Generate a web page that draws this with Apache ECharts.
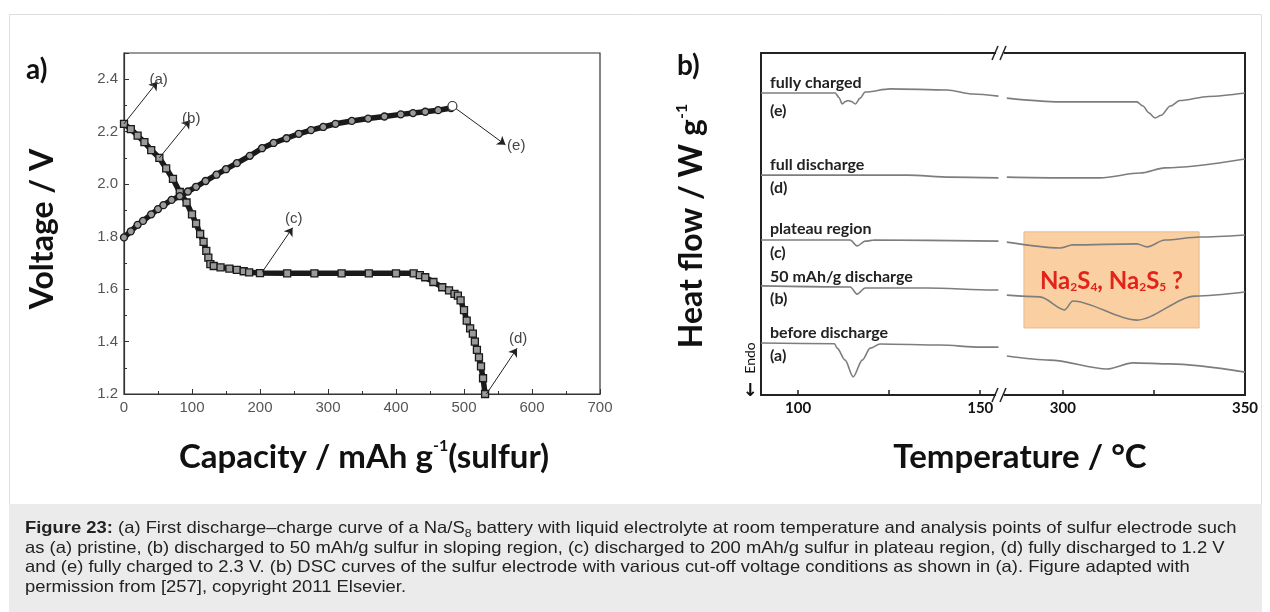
<!DOCTYPE html>
<html lang="en">
<head>
	<meta charset="UTF-8">
	<title>Na/S8 discharge-charge and DSC</title>
	<style>
		body, div {
			margin: 0;
			padding: 0;
		}
		body {
			background: #fff;
		}
		#main {
			position: absolute;
			left: 0;
			top: 0;
			width: 1270px;
			height: 612px;
		}
		#cap {
			position: absolute;
			left: 25px;
			top: 518px;
			font-family: 'Liberation Sans', Arial, sans-serif;
			font-size: 16.5px;
			line-height: 19.7px;
			color: #222;
			white-space: nowrap;
			transform: scaleX(1.115);
			transform-origin: 0 0;
		}
		#cap sub {
			font-size: 11px;
			line-height: 0;
		}
	</style>
</head>
<body>
	<div id="main"></div>
	<div id="cap">
		<b>Figure 23:</b> (a) First discharge&ndash;charge curve of a Na/S<sub>8</sub> battery with liquid electrolyte at room temperature and analysis points of sulfur electrode such<br>
		as (a) pristine, (b) discharged to 50 mAh/g sulfur in sloping region, (c) discharged to 200 mAh/g sulfur in plateau region, (d) fully discharged to 1.2 V<br>
		and (e) fully charged to 2.3 V. (b) DSC curves of the sulfur electrode with various cut-off voltage conditions as shown in (a). Figure adapted with<br>
		permission from [257], copyright 2011 Elsevier.
	</div>

	<script src="https://cdn.jsdelivr.net/npm/echarts@6/dist/echarts.min.js"></script>

	<script>
    // ---- a) discharge / charge (capacity mAh/g, voltage V) ----
    var dischargeCap = [0, 10, 20, 30, 40, 52, 62, 72, 82, 92, 100, 106, 112, 117, 121, 124, 127, 132, 142, 155, 166, 176, 184, 200, 240, 280, 320, 360, 400, 426, 435, 443, 455, 468, 478, 486, 491, 495, 500, 504, 509, 513, 516, 519, 522, 525, 528, 531];
    var dischargeV   = [2.23, 2.21, 2.185, 2.16, 2.13, 2.10, 2.06, 2.02, 1.97, 1.93, 1.885, 1.85, 1.81, 1.78, 1.746, 1.72, 1.695, 1.688, 1.683, 1.678, 1.673, 1.668, 1.664, 1.661, 1.66, 1.66, 1.66, 1.66, 1.66, 1.66, 1.653, 1.645, 1.627, 1.607, 1.595, 1.582, 1.575, 1.557, 1.52, 1.48, 1.45, 1.43, 1.40, 1.368, 1.34, 1.305, 1.26, 1.2];

    var chargeCap = [0, 10, 20, 28, 40, 50, 58, 70, 82, 94, 106, 120, 136, 150, 166, 185, 203, 220, 239, 257, 275, 293, 311, 335, 359, 383, 407, 425, 443, 462, 481];
    var chargeV   = [1.797, 1.82, 1.845, 1.86, 1.885, 1.905, 1.92, 1.94, 1.954, 1.972, 1.99, 2.012, 2.036, 2.057, 2.08, 2.108, 2.137, 2.157, 2.175, 2.192, 2.206, 2.218, 2.23, 2.241, 2.25, 2.258, 2.266, 2.271, 2.276, 2.282, 2.29];

    // arrows: [label, fromCap, fromV, toCap, toV]
    var pointArrows = [
        ['(a)', 0, 2.23, 49, 2.39],
        ['(b)', 52, 2.10, 97, 2.244],
        ['(c)', 203, 1.664, 248, 1.834],
        ['(d)', 533, 1.2, 578, 1.374],
        ['(e)', 483, 2.298, 561, 2.15]
    ];

    // ---- b) DSC curves [temperature degC, heat flow a.u.] ----
    var eLeft  = [[89.8, 88.3], [110.2, 88.3], [111.2, 87.0], [112.1, 85.1], [113.0, 85.8], [113.7, 86.1], [114.6, 85.8], [115.7, 85.1], [117.0, 86.8], [118.4, 88.6], [125.3, 89.5], [140.9, 89.2], [148, 88.0], [155, 87.4]];
    var eRight = [[284.6, 86.8], [299.2, 85.7], [320.3, 85.7], [322, 84.5], [323.6, 82.5], [325.3, 81.0], [327, 81.8], [329.5, 84.5], [332.1, 86.1], [340, 87.3], [350, 88.3]];
    var dLeft  = [[89.8, 64.3], [130, 64.3], [141.8, 63.7], [155, 63.5]];
    var dRight = [[284.6, 63.7], [299.2, 63.5], [310.2, 63.5], [321.2, 64.9], [328, 66.4], [350, 69.0]];
    var cLeft  = [[89.8, 45.3], [114.3, 45.3], [116.2, 43.6], [118.4, 45.0], [121, 45.3], [155, 45.0]];
    var cRight = [[284.6, 44.7], [299.2, 43.0], [302.7, 43.9], [320.3, 44.2], [323.1, 43.3], [328, 45.3], [337.6, 46.2], [350, 46.8]];
    var bLeft  = [[89.8, 31.9], [114.3, 31.6], [116.2, 29.5], [118.4, 31.3], [135.4, 31.3], [153.6, 30.7], [155, 30.7]];
    var bRight = [[284.6, 29.2], [293.7, 28.7], [300.5, 24.9], [302.7, 27.5], [320.3, 21.9], [336.3, 28.9], [350, 30.1]];
    var aLeft  = [[89.8, 15.2], [110, 15.0], [110.7, 13.7], [112.9, 10.2], [115.1, 5.3], [117.6, 10.2], [119.8, 13.7], [122.5, 14.9], [139, 14.6], [150, 14.0], [155, 14.0]];
    var aRight = [[284.6, 11.4], [296.4, 10.2], [312.1, 7.6], [319.2, 9.4], [329.4, 9.1], [350, 6.7]];

    // curve names written in the plot, [title, tag, y px of title, y px of tag]
    var dscLabels = [
        ['fully charged', '(e)', 83, 111],
        ['full discharge', '(d)', 165, 188],
        ['plateau region', '(c)', 229, 253],
        ['50 mAh/g discharge', '(b)', 277, 299],
        ['before discharge', '(a)', 333, 356]
    ];

    // highlighted region: [tMin, tMax, flowMin, flowMax]
    var naBox = [289.3, 337.4, 19.6, 47.7];

    var leftTicks = [100, 125, 150], leftLabels = [100, 150];
    var rightTicks = [300, 325, 350], rightLabels = [300, 350];

    function zip(xs, ys) {
        return xs.map(function (x, i) { return [x, ys[i]]; });
    }

    var calibri = 'Lato, "Open Sans", sans-serif';
    var arial = '"Liberation Sans", Arial, sans-serif';

    var myEcharts = echarts.init(document.getElementById('main'));

    var arrowLines = pointArrows.map(function (p) {
        return [
            { coord: [p[1], p[2]] },
            { coord: [p[3], p[4]], label: { formatter: p[0] } }
        ];
    });

    function dscSeries(data, grid) {
        return {
            type: 'line',
            xAxisIndex: grid === 1 ? 1 : 3,
            yAxisIndex: grid,
            data: data,
            symbol: 'none',
            smooth: 0.3,
            smoothMonotone: 'x',
            z: 3,
            lineStyle: { color: '#7d7d7d', width: 1.6 }
        };
    }

    var series = [
        {
            name: 'discharge',
            type: 'line',
            xAxisIndex: 0,
            yAxisIndex: 0,
            data: zip(dischargeCap, dischargeV),
            symbol: 'rect',
            symbolSize: 7,
            lineStyle: { color: '#1a1a1a', width: 5.5 },
            itemStyle: { color: '#9a9a9a', borderColor: '#1a1a1a', borderWidth: 1.3 },
            markLine: {
                silent: true,
                symbol: ['none', 'arrow'],
                symbolSize: 8,
                lineStyle: { color: '#222', width: 1, type: 'solid' },
                label: { show: true, position: 'end', distance: 2, color: '#444', fontSize: 15, fontFamily: arial },
                data: arrowLines
            }
        },
        {
            name: 'charge',
            type: 'line',
            xAxisIndex: 0,
            yAxisIndex: 0,
            data: zip(chargeCap, chargeV),
            symbol: 'circle',
            symbolSize: 7,
            lineStyle: { color: '#1a1a1a', width: 5.5 },
            itemStyle: { color: '#9a9a9a', borderColor: '#1a1a1a', borderWidth: 1.3 },
            markPoint: {
                silent: true,
                symbol: 'circle',
                symbolSize: 9,
                label: { show: false },
                itemStyle: { color: '#fff', borderColor: '#333', borderWidth: 1.2 },
                data: [{ coord: [483, 2.298] }]
            }
        },
        {
            name: 'box',
            type: 'line',
            xAxisIndex: 3,
            yAxisIndex: 2,
            data: [],
            z: 1,
            markArea: {
                silent: true,
                itemStyle: { color: '#fad0a2', borderColor: '#e9b98a', borderWidth: 1 },
                label: {
                    show: true,
                    position: 'inside',
                    formatter: '{m|Na}{s|2}{m|S}{s|4}{m|, Na}{s|2}{m|S}{s|5}{m| ?}',
                    rich: {
                        m: { fontSize: 24, fontWeight: 'bold', fontFamily: calibri, color: '#e2231a', lineHeight: 26, verticalAlign: 'bottom' },
                        s: { fontSize: 12, fontWeight: 'bold', fontFamily: calibri, color: '#e2231a', lineHeight: 6, verticalAlign: 'bottom' }
                    }
                },
                data: [[{ coord: [naBox[0], naBox[2]] }, { coord: [naBox[1], naBox[3]] }]]
            }
        },
        dscSeries(eLeft, 1), dscSeries(eRight, 2),
        dscSeries(dLeft, 1), dscSeries(dRight, 2),
        dscSeries(cLeft, 1), dscSeries(cRight, 2),
        dscSeries(bLeft, 1), dscSeries(bRight, 2),
        dscSeries(aLeft, 1), dscSeries(aRight, 2)
    ];

    var frame = { show: true, lineStyle: { color: '#222', width: 2 } };
    var noTick = { show: false };

    var supRich = {
        m: { font: 'bold 33px ' + calibri, fill: '#111', lineHeight: 38 },
        s: { font: 'bold 16px ' + calibri, fill: '#111', lineHeight: 38, verticalAlign: 'top', padding: [0, 0, 13, 0] }
    };

    var graphics = [
        // panel frame and caption band
        { type: 'rect', shape: { x: 9.5, y: 14.5, width: 1252, height: 490 }, style: { fill: 'none', stroke: '#dedede', lineWidth: 1 }, silent: true },
        { type: 'rect', shape: { x: 9, y: 504, width: 1253, height: 108 }, style: { fill: '#ebebeb' }, silent: true },
        // panel letters
        { type: 'text', x: 26, y: 70, style: { text: 'a)', font: 'bold 28px ' + calibri, fill: '#111', verticalAlign: 'middle' } },
        { type: 'text', x: 677, y: 66, style: { text: 'b)', font: 'bold 28px ' + calibri, fill: '#111', verticalAlign: 'middle' } },
        // axis titles
        {
            type: 'text', x: 43, y: 229, rotation: Math.PI / 2,
            style: { text: 'Voltage / V', font: 'bold 32px ' + calibri, fill: '#111', align: 'center', verticalAlign: 'middle' }
        },
        {
            type: 'text', x: 364, y: 457,
            style: { text: '{m|Capacity / mAh g}{s|-1}{m|(sulfur)}', align: 'center', verticalAlign: 'middle', rich: supRich }
        },
        {
            type: 'text', x: 692, y: 226, rotation: Math.PI / 2,
            style: {
                text: '{m|Heat flow / W g}{s|-1}', align: 'center', verticalAlign: 'middle',
                rich: {
                    m: { font: 'bold 32px ' + calibri, fill: '#111', lineHeight: 36 },
                    s: { font: 'bold 16px ' + calibri, fill: '#111', lineHeight: 36, verticalAlign: 'top', padding: [0, 0, 12, 0] }
                }
            }
        },
        {
            type: 'text', x: 1020, y: 457,
            style: { text: 'Temperature / \u00b0C', font: 'bold 33px ' + calibri, fill: '#111', align: 'center', verticalAlign: 'middle' }
        },
        // Endo marker
        {
            type: 'text', x: 750, y: 358, rotation: Math.PI / 2,
            style: { text: 'Endo', font: '14px ' + calibri, fill: '#111', align: 'center', verticalAlign: 'middle' }
        },
        {
            type: 'text', x: 750, y: 391,
            style: { text: '\u2193', font: 'bold 18px "DejaVu Sans"', fill: '#111', align: 'center', verticalAlign: 'middle' }
        }
    ];

    // axis break marks
    [53, 395].forEach(function (yy) {
        graphics.push({ type: 'rect', shape: { x: 996, y: yy - 3, width: 8, height: 6 }, style: { fill: '#fff' }, z: 10 });
        [995, 1003].forEach(function (xx) {
            graphics.push({ type: 'line', shape: { x1: xx - 3, y1: yy + 7, x2: xx + 3, y2: yy - 7 }, style: { stroke: '#222', lineWidth: 1.5 }, z: 11 });
        });
    });

    dscLabels.forEach(function (l) {
        graphics.push({ type: 'text', x: 770, y: l[2], style: { text: l[0], font: 'bold 16px ' + calibri, fill: '#222', verticalAlign: 'middle' } });
        graphics.push({ type: 'text', x: 770, y: l[3], style: { text: l[1], font: 'bold 16px ' + calibri, fill: '#222', verticalAlign: 'middle' } });
    });

    var options = {
        animation: false,
        grid: [
            { left: 124, top: 53, width: 476, height: 341, show: true, borderColor: '#333', borderWidth: 1.2 },
            { left: 761, top: 53, width: 240, height: 342 },
            { left: 1001, top: 53, width: 244, height: 342 }
        ],
        xAxis: [
            {
                gridIndex: 0, type: 'value', min: 0, max: 700, interval: 100,
                axisLine: { show: true, lineStyle: { color: '#333', width: 1.2 } },
                axisTick: { inside: true, length: 5, lineStyle: { color: '#333' } },
                minorTick: { show: true, splitNumber: 2, length: 3, lineStyle: { color: '#333' } },
                axisLabel: { color: '#555', fontSize: 15, fontFamily: arial, margin: 6 },
                splitLine: { show: false }
            },
            {
                gridIndex: 1, type: 'value', min: 89.8, max: 155.7,
                axisLine: frame,
                axisTick: { inside: true, length: 5, customValues: leftTicks, lineStyle: { color: '#222', width: 1.5 } },
                axisLabel: { customValues: leftLabels, color: '#111', fontSize: 15, fontWeight: 'bold', fontFamily: calibri, margin: 6 },
                splitLine: { show: false }
            },
            {
                gridIndex: 1, type: 'value', position: 'top', min: 89.8, max: 155.7,
                axisLine: frame, axisTick: noTick, axisLabel: { show: false }, splitLine: { show: false }
            },
            {
                gridIndex: 2, type: 'value', min: 283, max: 350,
                axisLine: frame,
                axisTick: { inside: true, length: 5, customValues: rightTicks, lineStyle: { color: '#222', width: 1.5 } },
                axisLabel: { customValues: rightLabels, color: '#111', fontSize: 15, fontWeight: 'bold', fontFamily: calibri, margin: 6 },
                splitLine: { show: false }
            },
            {
                gridIndex: 2, type: 'value', position: 'top', min: 283, max: 350,
                axisLine: frame, axisTick: noTick, axisLabel: { show: false }, splitLine: { show: false }
            }
        ],
        yAxis: [
            {
                gridIndex: 0, type: 'value', min: 1.2, max: 2.5, interval: 0.2,
                axisLine: { show: true, lineStyle: { color: '#333', width: 1.2 } },
                axisTick: { inside: true, length: 5, lineStyle: { color: '#333' } },
                minorTick: { show: true, splitNumber: 2, length: 3, lineStyle: { color: '#333' } },
                axisLabel: {
                    color: '#555', fontSize: 15, fontFamily: arial, margin: 6, showMaxLabel: false,
                    formatter: function (v) { return v.toFixed(1); }
                },
                splitLine: { show: false }
            },
            {
                gridIndex: 1, type: 'value', min: 0, max: 100,
                axisLine: frame, axisTick: noTick, axisLabel: { show: false }, splitLine: { show: false }
            },
            {
                gridIndex: 2, type: 'value', position: 'right', min: 0, max: 100,
                axisLine: frame, axisTick: noTick, axisLabel: { show: false }, splitLine: { show: false }
            }
        ],
        graphic: graphics,
        series: series
    };

    myEcharts.setOption(options);
	</script>

</body>
</html>
